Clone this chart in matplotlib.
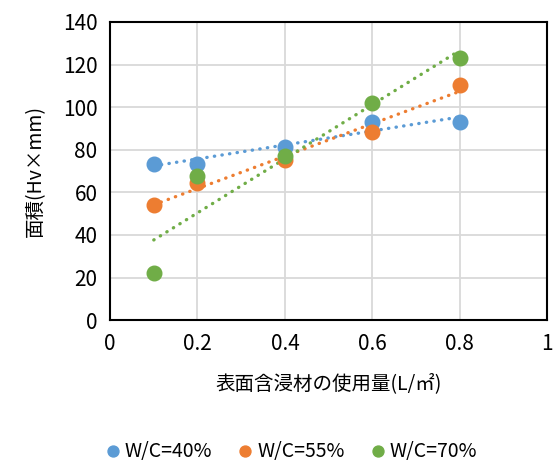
import matplotlib.pyplot as plt
import numpy as np

plt.rcParams['font.family'] = ['Noto Sans CJK JP', 'DejaVu Sans']

# usage (L/m2) and area values per W/C ratio
x_usage = [0.1, 0.2, 0.4, 0.6, 0.8]
wc40 = [73.5, 73.5, 81.5, 93.0, 93.0]
wc55 = [54.0, 64.5, 75.0, 88.5, 110.5]
wc70 = [22.0, 67.5, 77.0, 102.0, 123.0]
series_names = ['W/C=40%', 'W/C=55%', 'W/C=70%']
colors = ['#5B9BD5', '#ED7D31', '#70AD47']
xticks = [0, 0.2, 0.4, 0.6, 0.8, 1]
xtick_labels = ['0', '0.2', '0.4', '0.6', '0.8', '1']
yticks = [0, 20, 40, 60, 80, 100, 120, 140]

fig = plt.figure(figsize=(5.56, 4.66), dpi=100)
ax = fig.add_axes([0.198, 0.313, 0.786, 0.640])

x = np.array(x_usage)
for ys, name, c in zip([wc40, wc55, wc70], series_names, colors):
    ax.plot(x, ys, 'o', color=c, markersize=10.5, label=name, zorder=3)
    # linear trendline like Excel
    k, b = np.polyfit(x, ys, 1)
    ax.plot(x[[0, -1]], k * x[[0, -1]] + b, color=c, linewidth=2.4,
            linestyle=(0, (0.1, 2.2)), dash_capstyle='round', zorder=2)

ax.set_xlim(0, 1)
ax.set_ylim(0, 140)
ax.set_xticks(xticks)
ax.set_xticklabels(xtick_labels)
ax.set_yticks(yticks)
ax.tick_params(length=0, labelsize=15, pad=9)
ax.grid(True, color='#D9D9D9', linewidth=1.3)
ax.set_axisbelow(True)
for s in ax.spines.values():
    s.set_linewidth(1.5)
    s.set_color('black')

ax.set_xlabel('表面含浸材の使用量(L/㎡)', fontsize=14, labelpad=13)
ax.set_ylabel('面積(Hv×mm)', fontsize=14, labelpad=12)

fig.legend(loc='lower center', bbox_to_anchor=(0.52, -0.03), ncol=3, frameon=False,
           fontsize=14, handletextpad=0.0, columnspacing=1.1, markerscale=0.75,
           handlelength=1.2)

fig.savefig('out.png', dpi=100)
